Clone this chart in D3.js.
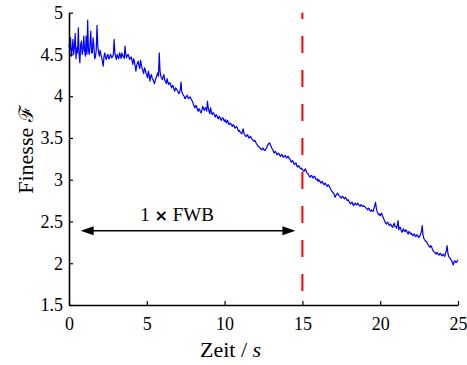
<!DOCTYPE html>
<html><head><meta charset="utf-8">
<script src="https://cdn.jsdelivr.net/npm/d3@7"></script>
<style>
body{margin:0;background:#fff;}
svg{display:block;font-family:"Liberation Serif","Times New Roman",serif;}
</style></head>
<body><svg id="c" width="467" height="365"></svg>
<script>
// Time axis: samples every 0.05 s from 0 to 25 s
const tStep = 0.05;
const finesse = [
 4.62,4.55,4.70,4.48,4.55,4.68,4.50,4.60,4.75,4.45,4.58,4.52,4.82,4.50,4.40,4.62,4.66,4.50,4.55,4.72,
 4.55,4.48,4.72,4.50,4.91,4.55,4.50,4.62,4.78,4.52,4.52,4.70,4.60,4.45,4.47,4.55,4.85,4.60,4.53,4.48,
 4.55,4.50,4.46,4.42,4.36,4.48,4.52,4.46,4.44,4.49,4.50,4.45,4.45,4.50,4.49,4.46,4.47,4.50,4.68,4.52,
 4.47,4.44,4.50,4.47,4.45,4.52,4.49,4.45,4.52,4.48,4.48,4.45,4.60,4.50,4.46,4.49,4.50,4.47,4.44,4.46,
 4.47,4.43,4.38,4.45,4.42,4.36,4.30,4.37,4.40,4.42,4.36,4.33,4.43,4.38,4.33,4.30,4.27,4.34,4.32,4.28,
 4.25,4.22,4.30,4.26,4.18,4.24,4.26,4.21,4.20,4.17,4.15,4.20,4.22,4.25,4.28,4.24,4.52,4.30,4.24,4.22,
 4.20,4.23,4.26,4.19,4.18,4.15,4.21,4.17,4.14,4.16,4.16,4.12,4.10,4.13,4.12,4.08,4.06,4.10,4.09,4.07,
 4.06,4.03,4.04,4.08,4.17,4.05,4.03,4.01,4.00,3.97,3.98,4.00,4.01,3.98,3.97,3.99,3.99,3.96,3.95,3.93,
 3.90,3.88,3.86,3.89,3.88,3.84,3.82,3.85,3.84,3.81,3.80,3.84,3.88,3.85,3.83,3.86,3.86,3.82,3.94,3.86,
 3.82,3.79,3.86,3.81,3.78,3.80,3.80,3.77,3.75,3.78,3.77,3.74,3.73,3.76,3.75,3.72,3.71,3.74,3.74,3.71,
 3.70,3.72,3.68,3.70,3.71,3.67,3.66,3.68,3.67,3.65,3.64,3.66,3.65,3.62,3.62,3.64,3.63,3.60,3.58,3.59,
 3.57,3.56,3.55,3.58,3.61,3.55,3.54,3.52,3.52,3.54,3.53,3.50,3.50,3.52,3.51,3.49,3.48,3.47,3.46,3.47,
 3.45,3.43,3.42,3.40,3.40,3.38,3.38,3.36,3.36,3.38,3.37,3.35,3.35,3.37,3.38,3.41,3.42,3.44,3.44,3.41,
 3.40,3.37,3.36,3.33,3.32,3.34,3.33,3.30,3.30,3.32,3.31,3.29,3.28,3.30,3.30,3.27,3.27,3.29,3.29,3.27,
 3.26,3.28,3.28,3.25,3.25,3.22,3.21,3.23,3.22,3.19,3.18,3.20,3.20,3.16,3.15,3.17,3.16,3.14,3.13,3.14,
 3.12,3.11,3.10,3.12,3.13,3.10,3.08,3.07,3.06,3.04,3.03,3.05,3.05,3.03,3.02,3.04,3.04,3.01,3.00,3.01,
 2.98,3.00,2.99,2.97,2.96,2.98,2.97,2.95,2.94,2.96,2.95,2.93,2.92,2.94,2.93,2.91,2.90,2.87,2.86,2.85,
 2.84,2.82,2.79,2.81,2.82,2.84,2.83,2.81,2.80,2.79,2.78,2.80,2.80,2.78,2.77,2.79,2.78,2.76,2.75,2.76,
 2.74,2.72,2.71,2.73,2.73,2.70,2.69,2.71,2.72,2.70,2.70,2.72,2.71,2.69,2.68,2.70,2.70,2.68,2.69,2.68,
 2.68,2.67,2.66,2.65,2.64,2.66,2.65,2.63,2.62,2.64,2.63,2.62,2.66,2.69,2.73,2.66,2.62,2.60,2.58,2.59,
 2.57,2.59,2.60,2.56,2.55,2.52,2.50,2.48,2.47,2.49,2.49,2.46,2.45,2.47,2.46,2.44,2.43,2.46,2.48,2.44,
 2.44,2.42,2.46,2.51,2.40,2.43,2.43,2.39,2.37,2.40,2.41,2.38,2.38,2.40,2.39,2.36,2.35,2.38,2.37,2.35,
 2.36,2.34,2.33,2.35,2.35,2.32,2.32,2.34,2.34,2.31,2.31,2.33,2.35,2.38,2.45,2.34,2.30,2.28,2.27,2.26,
 2.25,2.23,2.22,2.20,2.19,2.21,2.20,2.17,2.15,2.14,2.13,2.12,2.11,2.13,2.12,2.10,2.10,2.12,2.11,2.09,
 2.09,2.11,2.10,2.08,2.12,2.15,2.21,2.12,2.08,2.07,2.06,2.04,2.03,2.00,1.98,2.02,2.03,2.01,2.01,2.03,
 2.04
];
const xTicks = [0,5,10,15,20,25];
const yTicks = [1.5,2,2.5,3,3.5,4,4.5,5];
const xDomain = [0,25];
const yDomain = [1.5,5];
const markerTime = 15;
const arrowSpan = [0.75,14.55];
const arrowLevel = 2.39;
const arrowLabel = "1 \u00d7 FWB";
const arrowLabelPos = [6.95,2.50];
const xLabel = ["Zeit / ","s"];
const yLabel = ["Finesse ","\u2131"];

const svg = d3.select("#c");
const x = d3.scaleLinear().domain(xDomain).range([69,458]);
const y = d3.scaleLinear().domain(yDomain).range([305,12.7]);

// data line
const pts = finesse.map((v,i)=>[i*tStep, v]);
svg.append("path")
  .datum(pts)
  .attr("fill","none").attr("stroke","#0000ff").attr("stroke-width",1.2)
  .attr("stroke-linejoin","round")
  .attr("d", d3.line().x(d=>x(d[0])).y(d=>y(d[1])));

// red dashed marker
svg.append("line")
  .attr("x1",x(markerTime)).attr("x2",x(markerTime))
  .attr("y1",y(yDomain[1])).attr("y2",y(yDomain[0]))
  .attr("stroke","#ff0000").attr("stroke-width",2)
  .attr("stroke-dasharray","17,17").attr("stroke-dashoffset",10.7);

// axes
const gx = svg.append("g").attr("transform",`translate(0,${y(yDomain[0])})`)
  .call(d3.axisBottom(x).tickValues(xTicks).tickFormat(d3.format("d"))
        .tickSizeInner(-4).tickSizeOuter(0).tickPadding(12));
const gy = svg.append("g").attr("transform",`translate(${x(xDomain[0])},0)`)
  .call(d3.axisLeft(y).tickValues(yTicks).tickFormat(d=>String(d))
        .tickSizeInner(-4).tickSizeOuter(0).tickPadding(6));
[gx,gy].forEach(g=>{
  g.select(".domain").attr("stroke","#000").attr("stroke-width",1.6);
  g.selectAll(".tick line").attr("stroke","#000").attr("stroke-width",1.2);
  g.selectAll(".tick text").attr("fill","#000")
    .style("font-family","'Liberation Serif','Times New Roman',serif").style("font-size","18px");
});

// arrow
const ay = y(arrowLevel), ax1 = x(arrowSpan[0]), ax2 = x(arrowSpan[1]);
svg.append("line").attr("x1",ax1+6).attr("x2",ax2-6).attr("y1",ay).attr("y2",ay)
  .attr("stroke","#000").attr("stroke-width",1.5);
svg.append("path").attr("d",`M${ax1},${ay}L${ax1+13},${ay-4.5}L${ax1+13},${ay+4.5}Z`).attr("fill","#000");
svg.append("path").attr("d",`M${ax2},${ay}L${ax2-13},${ay-4.5}L${ax2-13},${ay+4.5}Z`).attr("fill","#000");
const al = svg.append("text").attr("x",x(arrowLabelPos[0])).attr("y",y(arrowLabelPos[1]))
  .attr("text-anchor","middle").style("font-size","19px");
al.append("tspan").text("1 ");
al.append("tspan").style("font-family","'DejaVu Sans',sans-serif").style("font-weight","bold").style("font-size","16px").text("\u00d7");
al.append("tspan").text(" FWB");

// axis labels
const xl = svg.append("text").attr("x",200).attr("y",357).style("font-size","22px");
xl.append("tspan").text(xLabel[0]);
xl.append("tspan").style("font-style","italic").text(xLabel[1]);
const yl = svg.append("text").attr("transform","translate(33,150) rotate(-90)")
  .attr("text-anchor","middle").style("font-size","22px");
yl.append("tspan").text(yLabel[0]);
yl.append("tspan").style("font-family","'DejaVu Serif',serif").style("font-size","20px").text(yLabel[1]);
</script></body></html>
